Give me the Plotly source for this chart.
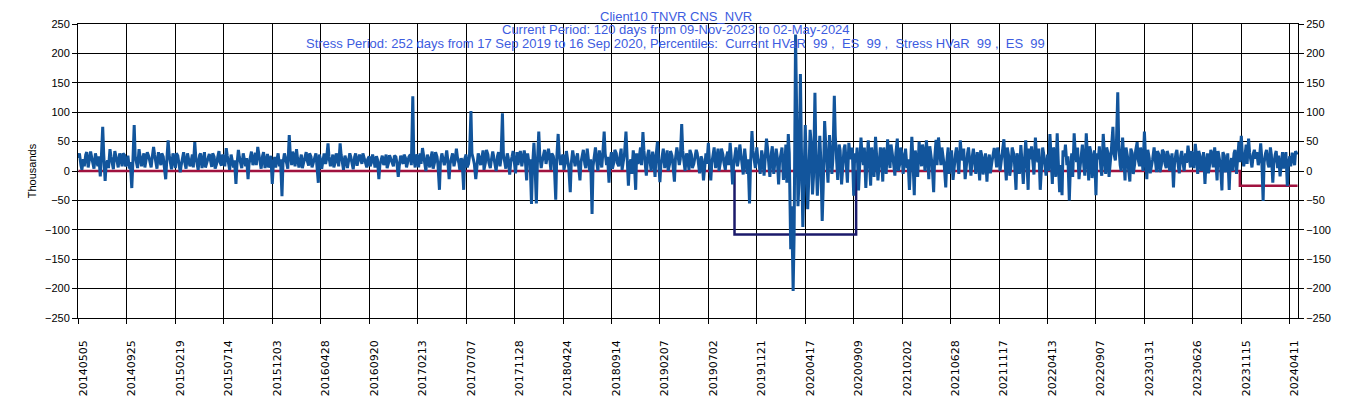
import plotly.graph_objects as go

# ---------------- data ----------------
# x-axis tick labels (one every 100 trading days, starting at trading day 0)
tick_labels = ["20140505", "20140925", "20150219", "20150714", "20151203",
               "20160428", "20160920", "20170213", "20170707", "20171128",
               "20180424", "20180914", "20190207", "20190702", "20191121",
               "20200417", "20200909", "20210202", "20210628", "20211117",
               "20220413", "20220907", "20230131", "20230626", "20231115",
               "20240411"]
TICK_EVERY = 100          # trading days between labels
SAMPLE_STEP = 5           # P&L every 5 trading days
MID_OFFSET = 2            # plus in-between readings 2 days later
LAST_DAY = 2516           # index of 02-May-2024

# daily P&L (thousands), one row per 100-day block
pnl_2014a = [22, 10, 20, 28, 6, 33, 12, 30, 8, -9, 75, -17, 18, 37, 10, 34, 15, 30, 8, 27]
pnl_2014b = [12, 4, -29, 78, 15, 37, 8, 30, 18, 25, 6, 41, 14, 32, 10, 24, -14, 52, 12, 30]
pnl_2015a = [5, 26, -2, 25, 12, 30, 8, 28, 49, 10, 27, 5, 32, 15, 29, 7, 24, 12, 34, 9]
pnl_2015b = [22, 39, 15, 28, 6, -22, 36, 12, 30, 8, -14, 25, 10, 31, 41, 14, 26, 5, 29, 12]
pnl_2015c = [-22, 24, 20, 8, -43, 30, 12, 61, 10, 25, 37, 6, 28, 14, 32, 9, 24, 15, 30, -20]
pnl_2016a = [18, 26, 12, 47, 8, 28, 15, 22, 47, 10, 26, 5, 30, 14, 24, 9, 28, 12, 20, 6]
pnl_2016b = [25, 15, 18, 25, -14, 22, 10, 28, 14, 20, 8, 24, -10, 26, 12, 22, 15, 28, 127, 6]
pnl_2017a = [24, 30, 39, 12, 28, 6, 33, 15, 24, -32, 30, 10, 35, -14, 26, 8, 38, 14, 22, -32]
pnl_2017b = [28, 12, 102, 20, -14, 30, 10, 35, 15, 28, 5, 33, 12, 26, 8, 98, 14, 30, -6, 25]
pnl_2017c = [12, 32, 25, 8, 35, -16, 12, -56, 48, -55, 67, 5, 30, 12, 38, 2, 25, -49, 63, 10]
pnl_2018a = [28, 15, 20, -36, 35, 8, 30, -16, 25, 12, 38, 0, -73, 30, 14, 35, 6, 67, 10, -20]
pnl_2018b = [32, 15, 30, 8, 38, 15, 67, -25, 20, 35, -32, 12, 40, 66, 5, 28, 14, 33, -10, 50]
pnl_2019a = [-19, 30, 5, 35, 12, 26, -18, 40, 10, 80, 15, 30, 2, 28, 12, 36, 8, 25, -16, 30]
pnl_2019b = [48, -16, 30, 5, 38, 15, 28, 2, 33, 48, -23, 30, 8, 45, 12, 38, -5, -55, 68, 20]
pnl_2019c = [40, 10, 35, -8, 55, 12, 30, -5, 38, -23, 30, -15, 45, 63, -133, -204, 232, -60, 165, -95]
pnl_2020a = [78, -65, 70, -40, 133, -42, 60, -85, 85, 10, 61, -5, 128, 5, 45, -23, 38, 0, 48, 20]
pnl_2020b = [-42, 15, -33, 57, 10, -29, 52, -25, 20, 58, -16, 40, -18, 25, 54, 5, 30, -8, 55, 12]
pnl_2021a = [28, 20, 5, -32, 58, -41, 15, 50, 8, 30, 52, -14, 25, -36, 53, 57, 10, 22, -28, 40]
pnl_2021b = [15, -15, 28, 10, 52, 18, -14, 30, 8, 26, 12, 32, -16, 24, 10, -18, 28, 14, 39, 6]
pnl_2021c = [25, 20, 54, -16, 25, 10, 30, -32, 18, 44, -22, 52, -32, 20, 8, 57, 15, -32, 40, 12]
pnl_2022a = [28, 63, -22, 30, 64, -36, -41, 25, 10, -50, 30, 64, 15, -14, 28, 8, 64, -16, 30, 12]
pnl_2022b = [-41, 20, 5, 63, -5, 30, 12, 75, 18, 134, 10, 57, -16, 25, -18, 30, 12, 49, 8, 22]
pnl_2023a = [67, -14, 22, 8, 40, -2, 28, 10, 32, 5, 25, 15, -28, 30, 8, 26, 12, 30, 43, 6]
pnl_2023b = [24, 46, -5, 25, 10, -22, 30, 12, 28, 40, -16, 20, -33, 26, 10, -32, 22, 30, -5, 49]
pnl_2023c = [60, 8, 45, 55, 15, 30, 21, 10, 47, -51, 30, 12, 40, -20, 28, 5, -9, 32, 18, -26]
pnl_2024a = [25, 31, 10, 28]

# in-between readings of the dense band (days 5k+2)
mid_2014a = [30, 2, 8, 32, 18, 24, 4, 20, 25, 20, 30, 10, 5, 25, 3, 28, 6, 22, 30, 8]
mid_2014b = [26, 15, 10, 25, 5, 26, 20, 6, 32, 14, 22, 28, 4, 24, 30, 8, 15, 28, 3, 16]
mid_2015a = [30, 14, 10, 32, 4, 22, 14, 6, 25, 2, 30, 18, 6, 24, 20, 30, 4, 22, 15, 28]
mid_2015b = [8, 26, 2, 20, 18, 10, 24, 5, 18, 22, 12, 33, 20, 10, 30, 4, 32, 16, 6, 26]
mid_2015c = [10, 6, 30, 20, 12, 24, 4, 30, 33, 8, 22, 16, 5, 22, 18, 30, 6, 24, 10, 28]
mid_2016a = [4, 30, 20, 24, 18, 6, 30, 8, 28, 2, 20, 14, 24, 3, 30, 16, 22, 30, 14, 20]
mid_2016b = [8, 28, 6, 20, 10, 26, 18, 5, 27, 12, 26, 15, 8, 20, 28, 6, 24, 10, 22, 28]
mid_2017a = [6, 12, 26, 0, 20, 22, 4, 32, 10, 14, 22, 18, 20, 12, 30, 16, 24, 2, 15, 20]
mid_2017b = [6, 25, 30, 12, 8, 24, 20, 2, 36, 14, 18, 24, 0, 32, 20, 28, 4, 22, 14, 34]
mid_2017c = [-4, 10, 34, 20, 22, 30, 20, 5, 15, 10, 28, 16, 36, 20, 25, 30, 12, 20, 30, 22]
mid_2018a = [2, 34, 5, 12, 25, 20, 10, 14, 36, 5, 22, 20, 8, 40, 0, 22, 28, 30, 24, 15]
mid_2018b = [4, 36, 14, 22, 2, 30, 20, 10, -5, 18, 30, 20, 10, 35, -8, 36, 0, 22, 25, 20]
mid_2019a = [10, 38, 18, 0, 34, 10, 20, 28, 20, 35, 0, 22, 36, 5, 22, 30, -4, 20, 10, 12]
mid_2019b = [20, 12, 40, 16, 0, 38, 15, 22, 10, 26, 8, 40, 18, 28, -6, 22, 20, 10, 35, 5]
mid_2019c = [22, -5, 25, 20, 40, -10, 42, 10, 25, 15, 40, 0, -20, 30, -60, -110, 100, -20, 40, -30]
mid_2020a = [20, -20, 50, -10, 30, 0, 20, -30, 50, -20, 40, 20, 60, -15, 35, 10, 45, -20, 30, 40]
mid_2020b = [30, 40, 5, 30, 40, 10, 20, 40, -10, 30, 5, 32, 40, -5, 25, 45, 15, 30, 0, 40]
mid_2021a = [-5, 38, 20, 10, 25, 35, -10, 30, 45, 0, 30, 42, 10, 20, 10, 35, 40, 8, 15, -5]
mid_2021b = [35, 8, 40, -5, 30, 38, 10, 40, -8, 38, -5, 20, 35, -6, 30, 15, -4, 22, 30, 40]
mid_2021c = [0, 30, 20, 40, -8, 40, 12, 30, -5, 20, 10, 25, 38, 42, -6, 30, 38, 0, 30, -8]
mid_2022a = [0, 30, 40, -10, 20, 10, 35, 45, 25, 0, -10, 35, 40, 5, 45, -8, 30, 42, -12, 35]
mid_2022b = [30, 42, -8, 30, 40, -10, 38, 30, 40, 45, 0, 25, 40, 5, 38, -5, 35, 20, 40, 0]
mid_2023a = [30, 36, -4, 20, 24, 34, -2, 36, 14, 34, 0, 30, 10, 36, -4, 34, 0, 14, 28, 34]
mid_2023b = [5, 30, 34, 0, 32, 12, -4, 36, 6, 22, 34, 10, 32, -2, 30, 10, 0, 36, 20, 15]
mid_2023c = [30, 22, 12, 32, 6, 36, 32, 18, 25, 14, 36, 6, 28, 12, 34, 26, 12, 4, 32, 10]
mid_2024a = [8, 22, 34]

# HVaR levels (thousands)
current_days = 120
current_hvar = -25
stress_start = 1354
stress_days = 252
stress_hvar = -108

title_lines = [
    "Client10 TNVR CNS_NVR",
    "Current Period: 120 days from 09-Nov-2023 to 02-May-2024",
    "Stress Period: 252 days from 17 Sep 2019 to 16 Sep 2020, Percentiles:  Current HVaR  99 ,  ES  99 ,  Stress HVaR  99 ,  ES  99",
]

# ---------------- assemble ----------------
pnl = (pnl_2014a + pnl_2014b + pnl_2015a + pnl_2015b + pnl_2015c + pnl_2016a
       + pnl_2016b + pnl_2017a + pnl_2017b + pnl_2017c + pnl_2018a + pnl_2018b
       + pnl_2019a + pnl_2019b + pnl_2019c + pnl_2020a + pnl_2020b + pnl_2021a
       + pnl_2021b + pnl_2021c + pnl_2022a + pnl_2022b + pnl_2023a + pnl_2023b
       + pnl_2023c + pnl_2024a)
mid = (mid_2014a + mid_2014b + mid_2015a + mid_2015b + mid_2015c + mid_2016a
       + mid_2016b + mid_2017a + mid_2017b + mid_2017c + mid_2018a + mid_2018b
       + mid_2019a + mid_2019b + mid_2019c + mid_2020a + mid_2020b + mid_2021a
       + mid_2021b + mid_2021c + mid_2022a + mid_2022b + mid_2023a + mid_2023b
       + mid_2023c + mid_2024a)

points = [(i * SAMPLE_STEP, v) for i, v in enumerate(pnl)]
points += [(i * SAMPLE_STEP + MID_OFFSET, v) for i, v in enumerate(mid)]
points.sort()
pnl_x = [p[0] for p in points]
pnl_y = [p[1] for p in points]

cur_start = LAST_DAY - current_days + 1
stress_end = stress_start + stress_days - 1
x_range = [-1, LAST_DAY + 1]

# ---------------- figure ----------------
fig = go.Figure()
fig.add_trace(go.Scatter(
    x=[0, cur_start, cur_start, LAST_DAY], y=[0, 0, current_hvar, current_hvar],
    mode="lines", line=dict(color="#a0123f", width=2.5), xaxis="x", yaxis="y",
    hoverinfo="skip"))
fig.add_trace(go.Scatter(
    x=[stress_start, stress_start, stress_end, stress_end],
    y=[0, stress_hvar, stress_hvar, 0],
    mode="lines", line=dict(color="#1b1a6b", width=2.5), xaxis="x", yaxis="y",
    hoverinfo="skip"))
fig.add_trace(go.Scatter(
    x=pnl_x, y=pnl_y, mode="lines",
    line=dict(color="#12559c", width=3), xaxis="x2", yaxis="y2"))

tick_vals = [i * TICK_EVERY for i in range(len(tick_labels))]
label_vals = [v + 10 for v in tick_vals]

# the page body has an 8px margin, so the figure is 8px smaller and margins shifted
fig.update_layout(
    template="none",
    width=1345, height=390,
    margin=dict(l=70, r=55, t=16, b=80, pad=0, autoexpand=False),
    paper_bgcolor="white", plot_bgcolor="white",
    showlegend=False,
    font=dict(family="Liberation Sans, Arial, sans-serif", size=11, color="black"),
    xaxis=dict(range=x_range, tickmode="array", tickvals=tick_vals,
               showticklabels=False, ticks="outside", ticklen=5,
               tickcolor="black", showgrid=True, gridcolor="black", gridwidth=1,
               showline=True, linecolor="black", linewidth=1, mirror=True,
               zeroline=False, automargin=False),
    xaxis2=dict(range=x_range, overlaying="x", side="bottom", anchor="y2",
                tickmode="array", tickvals=label_vals, ticktext=tick_labels,
                tickangle=-90, ticks="", showgrid=False, showline=False,
                zeroline=False, ticklabelstandoff=19, automargin=False,
                tickfont=dict(family="DejaVu Sans", size=11, color="black")),
    yaxis=dict(range=[-250, 250], tick0=0, dtick=50, ticks="outside", ticklen=5,
               tickcolor="black", showgrid=True, gridcolor="black", gridwidth=1,
               showline=True, linecolor="black", linewidth=1, zeroline=False,
               automargin=False,
               title=dict(text="Thousands", standoff=6, font=dict(size=11))),
    yaxis2=dict(range=[-250, 250], tick0=0, dtick=50, overlaying="y", side="right",
                ticks="outside", ticklen=5, tickcolor="black", showgrid=False,
                showline=True, linecolor="black", linewidth=1, zeroline=False,
                automargin=False),
)

title_y = [1.027, 0.980, 0.932]
for txt, yy in zip(title_lines, title_y):
    fig.add_annotation(text=txt, xref="paper", yref="paper", x=0.49, y=yy,
                       xanchor="center", yanchor="middle", showarrow=False,
                       font=dict(family="Liberation Sans, Arial, sans-serif",
                                 size=13, color="#3d5ce0"))

fig.write_html("out.html")
